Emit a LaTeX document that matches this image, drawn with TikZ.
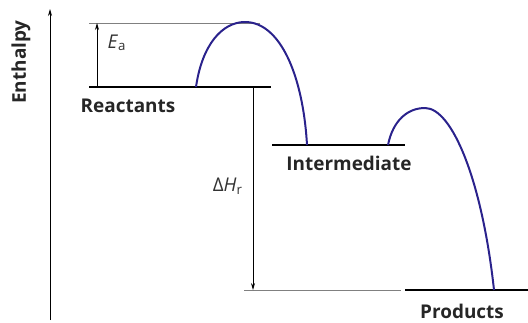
\documentclass[tikz,border=0pt]{standalone}
\usepackage{fontspec}
\setmainfont{Open Sans}
\usetikzlibrary{arrows.meta}
\definecolor{humpblue}{RGB}{42,34,140}
\tikzset{
  level/.style={line width=1.3pt, black},
  guide/.style={line width=0.6pt, gray},
  gap/.style={line width=0.7pt, -{Stealth[length=7pt, width=4pt]}},
  hump/.style={line width=2pt, humpblue},
  tag/.style={font=\bfseries\fontsize{19}{22}\selectfont, text=black!85},
  qty/.style={font=\fontsize{19}{22}\selectfont, text=black!80}
}
\begin{document}
\begin{tikzpicture}[x=1bp, y=-1bp]
      \useasboundingbox (0,0) rectangle (528,322);
      % axis
      \coordinate (origin) at (50,320);
      \coordinate (top) at (50,9);
      \draw[gap] (origin) -- (top);
      \node[tag, rotate=90] (enthalpy) at (21,62) {Enthalpy};
      % energy levels
      \coordinate (reacL) at (89,87);   \coordinate (reacR) at (271,87);
      \coordinate (tsL) at (89,23);     \coordinate (tsR) at (260,23);
      \coordinate (interL) at (272,145); \coordinate (interR) at (405,145);
      \coordinate (prodL) at (405,290); \coordinate (prodR) at (528,290);
      \coordinate (guideL) at (244,290);
      \draw[guide] (tsL) -- (tsR);
      \draw[guide] (guideL) -- (401,290);
      \draw[level] (reacL) -- (reacR);
      \draw[level] (interL) -- (interR);
      \draw[level] (prodL) -- (prodR);
      \node[tag] (reactants) at (128,106) {Reactants};
      \node[tag] (intermediate) at (349,163) {Intermediate};
      \node[tag] (products) at (462,311) {Products};
      % Ea and Delta H
      \draw[gap] (97,87) coordinate (eaB) -- (97,23) coordinate (eaT);
      \node[qty, anchor=west] (ea) at (104,43) {\textit{E}\textsubscript{a}};
      \draw[gap] (253,87) coordinate (dhT) -- (253,290) coordinate (dhB);
      \node[qty, anchor=east] (dh) at (246,186) {Δ\textit{H}\textsubscript{r}};
      % humps
      \draw[hump] (196,87) .. controls (202,45) and (222,22) .. (245,22)
                  .. controls (280,22) and (303,75) .. (307,145);
      \draw[hump] (388,145) .. controls (393,120) and (408,108) .. (425,108)
                  .. controls (452,108) and (482,180) .. (494,290);
\end{tikzpicture}
\end{document}
